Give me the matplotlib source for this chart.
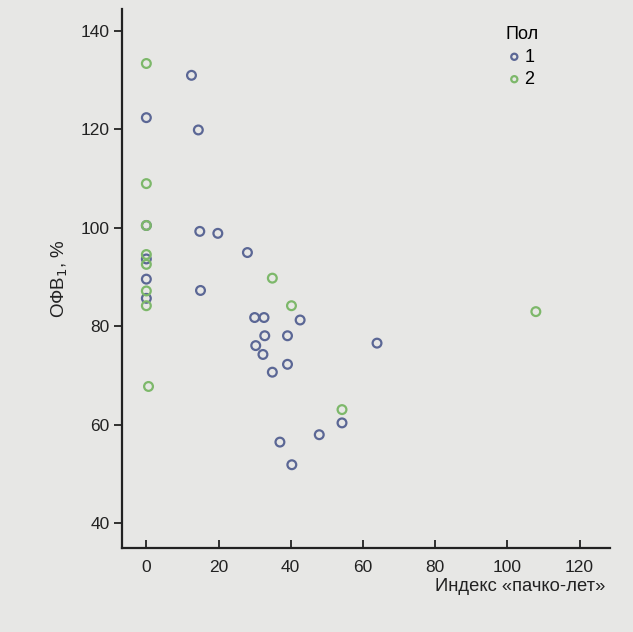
import matplotlib
matplotlib.use('Agg')
import matplotlib.pyplot as plt
import numpy as np

# pack-years index vs FEV1 (%), by sex
x1 = [12.5, 0, 14.4, 0, 14.8, 19.8, 28.0, 0, 0, 0, 15.0, 30.0, 32.6, 42.6,
      32.8, 39.1, 30.3, 32.3, 39.1, 34.9, 54.2, 47.9, 37.0, 40.3, 63.9]
y1 = [131.0, 122.4, 119.9, 100.5, 99.3, 98.9, 95.0, 93.7, 89.6, 85.7, 87.3, 81.8, 81.8, 81.3,
      78.1, 78.1, 76.1, 74.3, 72.3, 70.7, 60.4, 58.0, 56.5, 51.9, 76.6]

x2 = [0, 0, 0, 0, 0, 0, 0, 34.9, 40.2, 54.2, 107.9, 0.6]
y2 = [133.4, 109.0, 100.5, 94.6, 92.6, 87.2, 84.2, 89.8, 84.2, 63.1, 83.0, 67.8]

xticks = [0, 20, 40, 60, 80, 100, 120]
yticks = [40, 60, 80, 100, 120, 140]

plt.rcParams['font.family'] = ['Liberation Sans', 'DejaVu Sans']

bg = '#e7e7e5'
fig = plt.figure(figsize=(6.33, 6.32), dpi=100, facecolor=bg)
axes = fig.add_axes([0.193, 0.133, 0.771, 0.853])
axes.set_facecolor(bg)

axes.scatter(x1, y1, s=40, facecolors='none', edgecolors='#5b6795', linewidths=1.6, label='1')
axes.scatter(x2, y2, s=40, facecolors='none', edgecolors='#7db86a', linewidths=1.6, label='2')

axes.set_xlim(-6.7, 128.5)
axes.set_ylim(35.0, 144.5)
axes.set_xticks(xticks)
axes.set_yticks(yticks)

for s in ['top', 'right']:
    axes.spines[s].set_visible(False)
for s in ['left', 'bottom']:
    axes.spines[s].set_linewidth(1.6)
    axes.spines[s].set_color('#222222')

axes.tick_params(axis='x', direction='in', length=6, width=1.3, labelsize=12.5, pad=9, colors='#222222')
axes.tick_params(axis='y', direction='out', length=6, width=1.3, labelsize=12.5, pad=3, colors='#222222')

axes.set_ylabel('ОФВ$_1$, %', fontsize=13.5, labelpad=8, color='#222222')
axes.set_xlabel('Индекс «пачко-лет»', fontsize=13.2, color='#222222', ha='right')
axes.xaxis.set_label_coords(0.99, -0.055)

leg = axes.legend(title='Пол', loc='upper left', bbox_to_anchor=(0.785, 0.968), frameon=False,
                  fontsize=13, title_fontsize=13, handletextpad=0.05, labelspacing=0.3,
                  markerscale=0.7, alignment='left', borderaxespad=0, borderpad=0,
                  handlelength=1.0)

plt.savefig('out.png', dpi=100, facecolor=bg)
plt.close()
